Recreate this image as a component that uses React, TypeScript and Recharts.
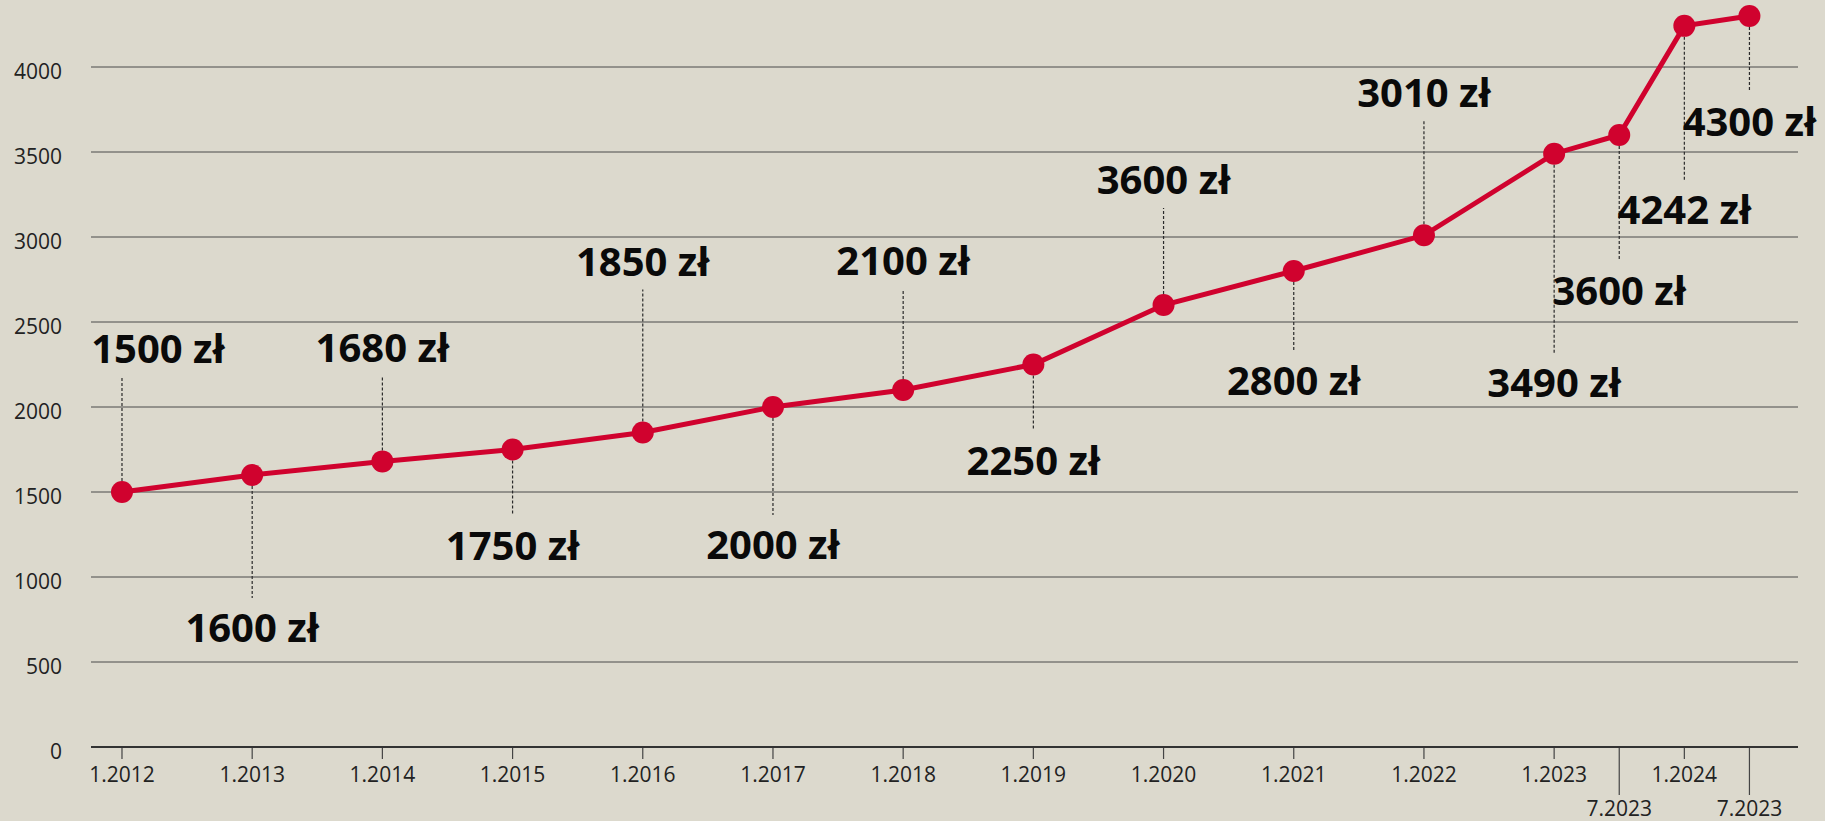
import React from 'react';
import { LineChart, Line, XAxis, YAxis, CartesianGrid } from 'recharts';

// ---- data ----
const periods = [2012, 2013, 2014, 2015, 2016, 2017, 2018, 2019, 2020, 2021, 2022, 2023, 2023.5, 2024, 2024.5];
const wages = [1500, 1600, 1680, 1750, 1850, 2000, 2100, 2250, 2600, 2800, 3010, 3490, 3600, 4242, 4300];
const valueLabels = [
  '1500 zł', '1600 zł', '1680 zł', '1750 zł', '1850 zł', '2000 zł', '2100 zł', '2250 zł',
  '3600 zł', '2800 zł', '3010 zł', '3490 zł', '3600 zł', '4242 zł', '4300 zł',
];
const xTickValues = [2012, 2013, 2014, 2015, 2016, 2017, 2018, 2019, 2020, 2021, 2022, 2023, 2024, 2023.5, 2024.5];
const xTickLabels = [
  '1.2012', '1.2013', '1.2014', '1.2015', '1.2016', '1.2017', '1.2018', '1.2019',
  '1.2020', '1.2021', '1.2022', '1.2023', '1.2024', '7.2023', '7.2023',
];
const yTicks = [0, 500, 1000, 1500, 2000, 2500, 3000, 3500, 4000];

// ---- layout (pixel offsets of the callouts relative to each point) ----
const leaderOffsets = [-115, 123, -85, 66, -143, 108, -101, 66, -97, 80, -114, 199, 126, 154, 76];
const labelShiftX = [36, 0, 0, 0, 0, 0, 0, 0, 0, 0, 0, 0, 0, 0, 0];

const data = periods.map((p, i) => ({ x: p, wage: wages[i] }));

const RED = '#d0022e';
const BG = '#dcd9cd';
const FONT = '"Open Sans", "Noto Sans", sans-serif';

const renderDot = (props: any) => {
  const { cx, cy, index } = props;
  const off = leaderOffsets[index];
  const below = off > 0;
  const start = cy + (below ? 11 : -11);
  const end = cy + off;
  const center = end + (below ? 29 : -29);
  return (
    <g key={`dot-${index}`}>
      <line x1={cx} x2={cx} y1={start} y2={end} stroke="#2a2a2a" strokeWidth={1.2} strokeDasharray="3 2" />
      <circle cx={cx} cy={cy} r={11} fill={RED} />
      <text
        x={cx + labelShiftX[index]}
        y={center + 15}
        textAnchor="middle"
        fontFamily={FONT}
        fontWeight={700}
        fontSize={40}
        fill="#0a0a0a"
      >
        {valueLabels[index]}
      </text>
    </g>
  );
};

const XTick = (props: any) => {
  const { x, y, payload } = props;
  const v = payload.value;
  const i = xTickValues.indexOf(v);
  const half = v % 1 !== 0;
  return (
    <g>
      <line x1={x} x2={x} y1={y + 1} y2={y + (half ? 48 : 12)} stroke="#444" strokeWidth={1.2} />
      <text x={x} y={y + (half ? 69 : 35)} textAnchor="middle" fontFamily={FONT} fontSize={21} fill="#222">
        {xTickLabels[i]}
      </text>
    </g>
  );
};

const YTick = (props: any) => {
  const { x, y, payload } = props;
  return (
    <text x={x} y={y + 12} textAnchor="end" fontFamily={FONT} fontSize={21} fill="#222">
      {payload.value}
    </text>
  );
};

export default function App() {
  return (
    <div style={{ position: 'absolute', left: 0, top: 0, width: 1825, height: 821, background: BG }}>
      <LineChart width={1825} height={821} data={data} margin={{ top: 16, right: 27, bottom: 0, left: 0 }}>
        <CartesianGrid horizontal vertical={false} stroke="#4a4a4a" strokeWidth={1} syncWithTicks />
        <XAxis
          dataKey="x"
          type="number"
          domain={[2011.762, 2024.873]}
          ticks={xTickValues}
          interval={0}
          height={74}
          tickSize={0}
          tickMargin={0}
          tickLine={false}
          axisLine={{ stroke: '#333', strokeWidth: 2 }}
          tick={<XTick />}
        />
        <YAxis
          type="number"
          domain={[0, 4300]}
          ticks={yTicks}
          interval={0}
          width={91}
          tickSize={6}
          tickMargin={23}
          axisLine={false}
          tickLine={false}
          tick={<YTick />}
        />
        <Line
          type="linear"
          dataKey="wage"
          stroke={RED}
          strokeWidth={5}
          dot={renderDot}
          activeDot={false}
          isAnimationActive={false}
        />
      </LineChart>
    </div>
  );
}
